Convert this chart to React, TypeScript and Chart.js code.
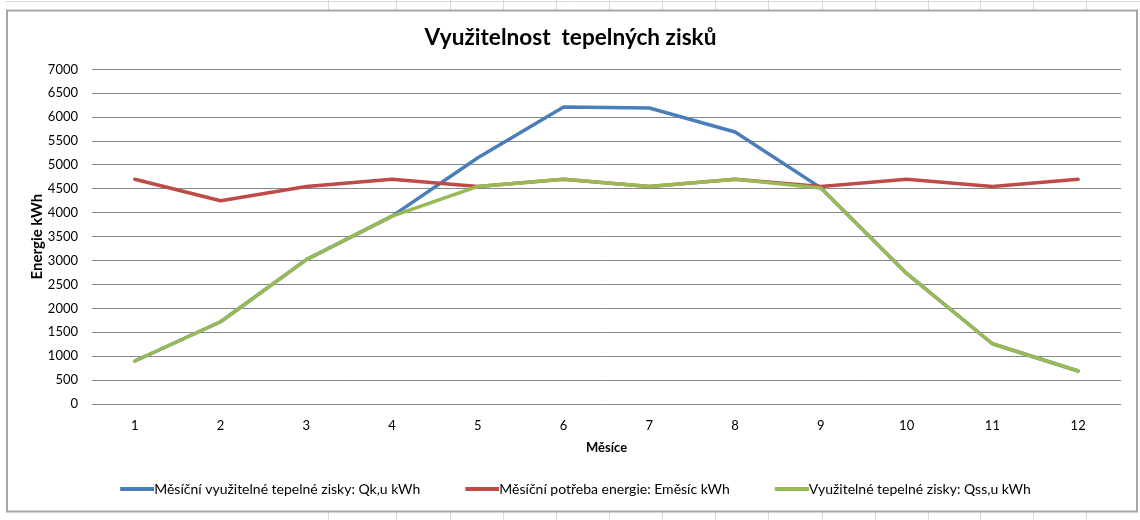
import React, { useEffect, useRef } from 'react';
import { Chart, registerables } from 'chart.js';

Chart.register(...registerables);

// ---- data ----
const months = ['1', '2', '3', '4', '5', '6', '7', '8', '9', '10', '11', '12'];
const monthlyUsableGainsQku = [900, 1720, 3020, 3930, 5150, 6210, 6190, 5690, 4520, 2730, 1260, 690];
const monthlyEnergyDemand = [4700, 4250, 4550, 4700, 4550, 4700, 4550, 4700, 4550, 4700, 4550, 4700];
const usableGainsQssu = [900, 1720, 3020, 3930, 4550, 4700, 4550, 4700, 4520, 2730, 1260, 690];
const yMin = 0;
const yMax = 7000;
const yStep = 500;

const chartTitle = 'Využitelnost  tepelných zisků';
const xTitle = 'Měsíce';
const yTitle = 'Energie kWh';
const seriesNames = [
  'Měsíční využitelné tepelné zisky: Qk,u kWh',
  'Měsíční potřeba energie: Eměsíc kWh',
  'Využitelné tepelné zisky: Qss,u kWh',
];
const seriesColors = ['#4A7EBB', '#BE4B48', '#98B954'];

const FONT = 'Lato, "Open Sans", sans-serif';

// legend marker: a short line placed at the right end of the legend box
function legendLine(color: string): HTMLCanvasElement {
  const c = document.createElement('canvas');
  c.width = 51;
  c.height = 4;
  const g = c.getContext('2d')!;
  g.fillStyle = color;
  g.fillRect(17, 0, 34, 4);
  return c;
}

const framePlugin = {
  id: 'frame',
  beforeDraw(chart: any) {
    const ctx = chart.ctx as CanvasRenderingContext2D;
    ctx.save();
    ctx.fillStyle = '#ffffff';
    ctx.fillRect(0, 0, chart.width, chart.height);
    ctx.strokeStyle = '#d9d9d9';
    ctx.lineWidth = 1;
    ctx.beginPath();
    ctx.moveTo(5, 1.5);
    ctx.lineTo(chart.width, 1.5);
    const cols = [328, 396, 450, 503, 556, 609, 662, 715, 768, 822, 875, 928, 980, 1033, 1086];
    for (const x of cols) {
      ctx.moveTo(x + 0.5, 0);
      ctx.lineTo(x + 0.5, 10);
      ctx.moveTo(x + 0.5, 512);
      ctx.lineTo(x + 0.5, 520);
    }
    ctx.stroke();
    ctx.strokeStyle = '#a6a6a6';
    ctx.lineWidth = 2;
    ctx.strokeRect(7, 10.5, 1130, 501);
    ctx.restore();
  },
};

export default function App() {
  const ref = useRef<HTMLCanvasElement | null>(null);

  useEffect(() => {
    if (!ref.current) return;
    const series = [monthlyUsableGainsQku, monthlyEnergyDemand, usableGainsQssu];
    const lines = seriesColors.map(legendLine);
    const chart = new Chart(ref.current, {
      type: 'line',
      data: {
        labels: months,
        datasets: series.map((d, i) => ({
          label: seriesNames[i],
          data: d,
          borderColor: seriesColors[i],
          backgroundColor: seriesColors[i],
          borderWidth: 3.5,
          pointRadius: 0,
          tension: 0,
          borderJoinStyle: 'round' as const,
          borderCapStyle: 'round' as const,
          order: 3 - i,
        })),
      },
      options: {
        responsive: false,
        animation: false,
        devicePixelRatio: 1,
        layout: { padding: { top: 11, left: 20, right: 19, bottom: 14 } },
        plugins: {
          title: {
            display: true,
            text: chartTitle,
            color: '#000',
            font: { family: FONT, size: 22.6, weight: 'bold' },
            padding: { top: 13.4, bottom: 17.8 },
          },
          legend: {
            position: 'bottom',
            labels: {
              usePointStyle: true,
              pointStyleWidth: 37,
              boxHeight: 4,
              padding: 35,
              color: '#000',
              font: { family: FONT, size: 14 },
              generateLabels: (c: any) =>
                c.data.datasets.map((ds: any, i: number) => ({
                  text: ds.label,
                  fillStyle: seriesColors[i],
                  strokeStyle: seriesColors[i],
                  lineWidth: 0,
                  pointStyle: lines[i],
                  hidden: false,
                  datasetIndex: i,
                  fontColor: '#000',
                })),
            },
          },
          tooltip: { enabled: false },
        },
        scales: {
          x: {
            offset: true,
            grid: { display: false, drawTicks: false },
            border: { display: false },
            ticks: { color: '#000', padding: 14, font: { family: FONT, size: 13 } },
            title: {
              display: true,
              text: xTitle,
              color: '#000',
              font: { family: FONT, size: 13, weight: 'bold' },
              padding: { top: 0, bottom: -8.8 },
            },
            afterFit: (s: any) => {
              s.height = 43;
            },
          },
          y: {
            min: yMin,
            max: yMax,
            grid: { color: '#878787', lineWidth: 1, drawTicks: false },
            border: { display: false },
            ticks: {
              stepSize: yStep,
              color: '#000',
              padding: 14,
              font: { family: FONT, size: 13 },
              callback: (v: any) => String(v),
            },
            title: {
              display: true,
              text: yTitle,
              color: '#000',
              font: { family: FONT, size: 15, weight: 'bold' },
              padding: { top: 8, bottom: 0 },
            },
            afterFit: (s: any) => {
              s.width = 72;
            },
          },
        },
      },
      plugins: [framePlugin],
    });
    return () => chart.destroy();
  }, []);

  return (
    <div style={{ position: 'absolute', left: 0, top: 0, width: 1140, height: 520 }}>
      <canvas ref={ref} width={1140} height={520} style={{ display: 'block', width: 1140, height: 520 }} />
    </div>
  );
}
